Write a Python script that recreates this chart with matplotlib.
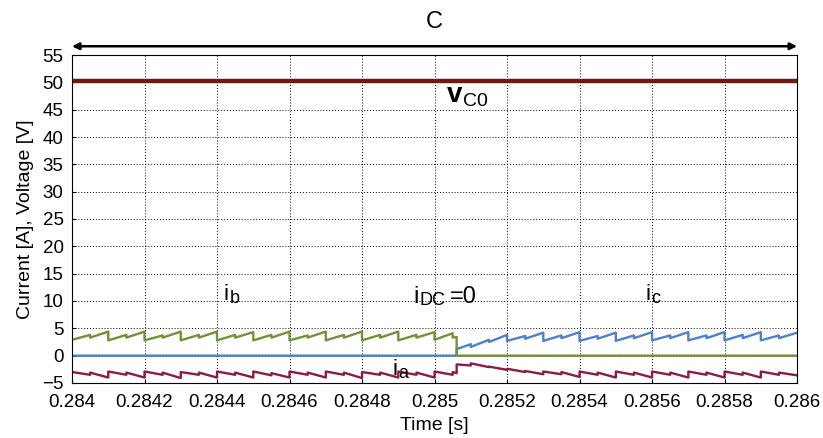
import matplotlib
matplotlib.use('Agg')
import matplotlib.pyplot as plt

plt.rcParams['font.family'] = ['Liberation Sans', 'DejaVu Sans']
plt.rcParams['mathtext.default'] = 'regular'

# time axis
t_start = 0.284
t_end = 0.286
t_fault = 0.285061
x_ticks = [0.284, 0.2842, 0.2844, 0.2846, 0.2848, 0.285, 0.2852, 0.2854, 0.2856, 0.2858, 0.286]
x_labels = ['0.284', '0.2842', '0.2844', '0.2846', '0.2848', '0.285', '0.2852', '0.2854', '0.2856', '0.2858', '0.286']
y_ticks = [-5, 0, 5, 10, 15, 20, 25, 30, 35, 40, 45, 50, 55]

# switching instants before and after the DC current goes to zero
sw_pre = [0.28405, 0.2841, 0.28415, 0.2842, 0.28425, 0.2843, 0.28435, 0.2844, 0.28445, 0.2845,
          0.28455, 0.2846, 0.28465, 0.2847, 0.28475, 0.2848, 0.28485, 0.2849, 0.28495, 0.2850, 0.28505]
sw_post = [0.2851, 0.28515, 0.2852, 0.28525, 0.2853, 0.28535, 0.2854, 0.28545, 0.2855, 0.28555,
           0.2856, 0.28565, 0.2857, 0.28575, 0.2858, 0.28585, 0.2859, 0.28595]

# capacitor voltage
v_c0 = 50.3

# i_b (green): value just before / just after each switching instant
ib_start = 2.9
ib_before = [3.8, 4.4, 3.8, 4.4, 3.7, 4.4, 3.8, 4.4, 3.8, 4.3, 3.8, 4.4, 3.7, 4.4, 3.8, 4.4, 3.8, 4.4, 3.8, 4.3, 4.1, 3.4]
ib_after = [3.3, 2.8, 3.3, 2.8, 3.3, 2.8, 3.3, 2.8, 3.3, 2.8, 3.3, 2.8, 3.3, 2.8, 3.3, 2.8, 3.3, 2.8, 3.3, 2.9, 3.3, 0.0]
ib_end = 0.0

# i_c (blue)
ic_start = 0.0
ic_before = [0.0, 2.1, 2.9, 3.8, 3.6, 4.2, 3.7, 4.3, 3.6, 4.2, 3.7, 4.3, 3.7, 4.3, 3.7, 4.3, 3.8, 4.3, 3.7]
ic_after = [1.2, 1.6, 2.5, 2.7, 3.1, 2.7, 3.2, 2.7, 3.1, 2.7, 3.2, 2.8, 3.2, 2.8, 3.2, 2.8, 3.2, 2.8, 3.2]
ic_end = 4.2

# i_a (dark red)
ia_start = -3.0
ia_before = [-3.5, -4.0, -3.5, -4.0, -3.5, -4.1, -3.5, -4.0, -3.5, -4.0, -3.6, -4.0, -3.5, -4.0, -3.5, -4.1, -3.5, -4.0, -3.5, -4.0, -3.5,
             -3.2,
             -1.8, -2.1, -2.6, -3.0, -3.4, -3.4, -3.9, -3.5, -4.0, -3.5, -4.0, -3.5, -4.0, -3.5, -4.0, -3.5, -4.0, -3.5]
ia_after = [-3.1, -2.9, -3.1, -2.9, -3.1, -3.0, -3.1, -2.9, -3.1, -2.9, -3.2, -2.9, -3.1, -2.9, -3.1, -3.0, -3.1, -2.9, -3.1, -2.9, -3.0,
            -1.6,
            -1.4, -2.0, -2.4, -2.8, -2.9, -3.0, -2.9, -3.1, -2.9, -3.1, -2.9, -3.1, -2.9, -3.1, -2.9, -3.1, -2.9, -3.1]
ia_end = -3.6


def build(v0, times, before, after, v_end):
    # piecewise linear trace with vertical jumps at the switching instants
    t = [t_start]
    v = [v0]
    for ti, b, a in zip(times, before, after):
        t += [ti, ti]
        v += [b, a]
    t.append(t_end)
    v.append(v_end)
    return t, v


def sub_label(ax, x, y, main, sub, size=16, subsize=13, weight='normal', tail=None):
    # main text + subscript placed just after it (+ optional trailing text)
    t1 = ax.text(x, y, main, fontsize=size, fontweight=weight, ha='left', va='baseline')
    t2 = ax.annotate(sub, xy=(1, 0), xycoords=t1, xytext=(0.6, 1.6), textcoords='offset points',
                     fontsize=subsize, ha='left', va='baseline')
    if tail is not None:
        ax.annotate(tail, xy=(1, 0), xycoords=t2, xytext=(3.5, 4.6), textcoords='offset points',
                    fontsize=size, ha='left', va='baseline')


ib_t, ib_v = build(ib_start, sw_pre + [t_fault], ib_before, ib_after, ib_end)
ic_t, ic_v = build(ic_start, [t_fault] + sw_post, ic_before, ic_after, ic_end)
ia_t, ia_v = build(ia_start, sw_pre + [t_fault] + sw_post, ia_before, ia_after, ia_end)

fig = plt.figure(figsize=(8.23, 4.38), dpi=100)
ax = fig.add_axes([0.0875, 0.1256, 0.881, 0.7488])

ax.plot([t_start, t_end], [v_c0, v_c0], color='#6E1A12', lw=3.2)
ax.plot(ic_t, ic_v, color='#4F81C8', lw=1.7)
ax.plot(ib_t, ib_v, color='#71913A', lw=1.7)
ax.plot(ia_t, ia_v, color='#8E1C40', lw=1.7)

ax.set_xlim(t_start, t_end)
ax.set_ylim(-5, 55)
ax.set_xticks(x_ticks)
ax.set_xticklabels(x_labels)
ax.set_yticks(y_ticks)
ax.tick_params(direction='in', labelsize=13.5, length=3, colors='black')
ax.tick_params(axis='x', pad=8)
ax.tick_params(axis='y', pad=6)
ax.grid(True, color='black', linestyle=(0, (1, 2)), lw=0.7)
for s in ax.spines.values():
    s.set_color('black')
    s.set_linewidth(0.8)

ax.set_xlabel('Time [s]', fontsize=14, labelpad=4)
ax.set_ylabel('Current [A], Voltage [V]', fontsize=14, labelpad=6)

# top arrow and label
ax.annotate('', xy=(0.28400, 56.6), xytext=(0.28600, 56.6),
            arrowprops=dict(arrowstyle='<|-|>', color='black', lw=1.8,
                            mutation_scale=10, shrinkA=0, shrinkB=0),
            annotation_clip=False)
ax.text(0.28500, 61.0, 'C', fontsize=17, ha='center', va='center', clip_on=False)

sub_label(ax, 0.285034, 46.4, 'v', 'C0', size=20, subsize=14, weight='bold')
sub_label(ax, 0.284419, 10.2, 'i', 'b')
sub_label(ax, 0.285581, 10.2, 'i', 'c')
sub_label(ax, 0.284941, 9.7, 'i', 'DC', tail='=0', size=17, subsize=13)
sub_label(ax, 0.284883, -3.6, 'i', 'a')

fig.savefig('out.png', dpi=100, facecolor='white')
